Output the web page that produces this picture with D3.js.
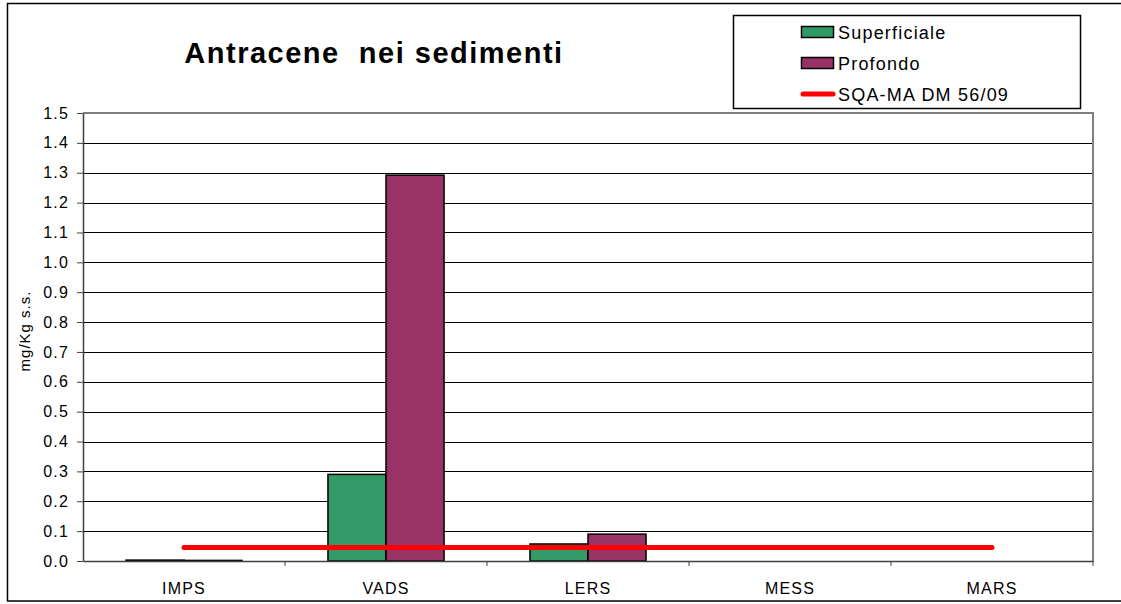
<!DOCTYPE html>
<html>
<head>
<meta charset="utf-8">
<script src="https://cdn.jsdelivr.net/npm/d3@7"></script>
<style>
  body { margin: 0; background: #fff; }
  svg { font-family: "Liberation Sans", Arial, sans-serif; }
</style>
</head>
<body>
<svg id="chart" width="1121" height="604"></svg>
<script>
// data
const categories = ["IMPS", "VADS", "LERS", "MESS", "MARS"];
const superficiale = [0.003, 0.29, 0.057, 0, 0];
const profondo = [0.002, 1.292, 0.09, 0, 0];
const sqaValue = 0.045; // SQA-MA DM 56/09
const yTicks = [0, 0.1, 0.2, 0.3, 0.4, 0.5, 0.6, 0.7, 0.8, 0.9, 1.0, 1.1, 1.2, 1.3, 1.4, 1.5];
const seriesNames = ["Superficiale", "Profondo", "SQA-MA DM 56/09"];
const colors = ["#339966", "#993366", "#ff0000"];

const svg = d3.select("#chart");

// outer chart frame
svg.append("rect")
    .attr("x", 7.5).attr("y", 3.5)
    .attr("width", 1125).attr("height", 597.5)
    .attr("fill", "#fff")
    .attr("stroke", "#000")
    .attr("stroke-width", 1.5);

// plot area
const plot = { left: 83, top: 113, right: 1093, bottom: 561 };

const x = d3.scaleBand()
    .domain(categories)
    .range([plot.left, plot.right])
    .paddingInner(0)
    .paddingOuter(0);

// two bars per category, ~58px each, ~43px gap at both sides
const inner = d3.scaleBand()
    .domain([0, 1])
    .range([0, x.bandwidth()])
    .paddingOuter(0.74)
    .paddingInner(0);

const y = d3.scaleLinear().domain([0, 1.5]).range([plot.bottom, plot.top]);

// gridlines
svg.append("g")
    .selectAll("line")
    .data(yTicks.slice(1))
    .join("line")
    .attr("x1", plot.left).attr("x2", plot.right)
    .attr("y1", d => Math.round(y(d)) + 0.5)
    .attr("y2", d => Math.round(y(d)) + 0.5)
    .attr("stroke", "#000")
    .attr("stroke-width", 1);

// plot area border (top/right, grey)
svg.append("path")
    .attr("d", `M${plot.left},${plot.top} H${plot.right} V${plot.bottom}`)
    .attr("fill", "none")
    .attr("stroke", "#808080")
    .attr("stroke-width", 2);

// bars
const groups = svg.append("g")
    .selectAll("g")
    .data(categories)
    .join("g")
    .attr("transform", d => `translate(${x(d)},0)`);

groups.selectAll("rect")
    .data((d, i) => [superficiale[i], profondo[i]].map((v, k) => ({ v, k })))
    .join("rect")
    .attr("x", d => inner(d.k))
    .attr("y", d => y(d.v))
    .attr("width", inner.bandwidth())
    .attr("height", d => y(0) - y(d.v))
    .attr("fill", d => colors[d.k])
    .attr("stroke", "#000")
    .attr("stroke-width", 1.5);

// y axis
const yAxis = svg.append("g")
    .attr("transform", `translate(${plot.left},0)`)
    .call(d3.axisLeft(y).tickValues(yTicks).tickFormat(d3.format(".1f")).tickSize(6).tickSizeOuter(0));
yAxis.select(".domain").attr("stroke", "#404040").attr("stroke-width", 1.5);
yAxis.selectAll(".tick line").attr("stroke", "#404040");
yAxis.selectAll(".tick text")
    .attr("x", -14)
    .attr("font-size", 16)
    .attr("letter-spacing", 1.2)
    .attr("font-family", "Liberation Sans, Arial, sans-serif")
    .attr("fill", "#000");

// x axis
const xAxis = svg.append("g")
    .attr("transform", `translate(0,${plot.bottom})`)
    .call(d3.axisBottom(x).tickSize(0).tickSizeOuter(0));
xAxis.select(".domain").attr("stroke", "#404040").attr("stroke-width", 1.5);
xAxis.selectAll(".tick text")
    .attr("dy", 0)
    .attr("y", 33)
    .attr("font-size", 16)
    .attr("letter-spacing", 1.2)
    .attr("font-family", "Liberation Sans, Arial, sans-serif")
    .attr("fill", "#000");
// category separator ticks
svg.append("g")
    .selectAll("line")
    .data(categories.slice(1).concat(["end"]))
    .join("line")
    .attr("x1", d => d === "end" ? plot.right : x(d))
    .attr("x2", d => d === "end" ? plot.right : x(d))
    .attr("y1", plot.bottom)
    .attr("y2", plot.bottom + 5)
    .attr("stroke", "#404040");

// SQA threshold line from first to last category centre
svg.append("line")
    .attr("x1", x(categories[0]) + x.bandwidth() / 2)
    .attr("x2", x(categories[categories.length - 1]) + x.bandwidth() / 2)
    .attr("y1", y(sqaValue))
    .attr("y2", y(sqaValue))
    .attr("stroke", colors[2])
    .attr("stroke-width", 5)
    .attr("stroke-linecap", "round");

// title
svg.append("text")
    .attr("x", 374).attr("y", 63)
    .attr("text-anchor", "middle")
    .attr("font-size", 29)
    .attr("font-weight", "bold")
    .attr("letter-spacing", 1.5)
    .attr("xml:space", "preserve")
    .text("Antracene  nei sedimenti");

// y axis title
svg.append("text")
    .attr("transform", "translate(30,331) rotate(-90)")
    .attr("text-anchor", "middle")
    .attr("font-size", 15)
    .attr("letter-spacing", 1)
    .text("mg/Kg s.s.");

// legend
const legend = svg.append("g");
legend.append("rect")
    .attr("x", 733.5).attr("y", 15.5)
    .attr("width", 347).attr("height", 93)
    .attr("fill", "#fff")
    .attr("stroke", "#000")
    .attr("stroke-width", 1.5);

const legendRows = legend.selectAll("g.row")
    .data(seriesNames)
    .join("g")
    .attr("class", "row")
    .attr("transform", (d, i) => `translate(801,${32 + i * 31})`);

legendRows.filter((d, i) => i < 2)
    .append("rect")
    .attr("x", 0.5).attr("y", -5.5)
    .attr("width", 32).attr("height", 11)
    .attr("fill", (d, i) => colors[i])
    .attr("stroke", "#000")
    .attr("stroke-width", 1.5);

legendRows.filter((d, i) => i === 2)
    .append("line")
    .attr("x1", 2).attr("x2", 32)
    .attr("y1", 0).attr("y2", 0)
    .attr("stroke", colors[2])
    .attr("stroke-width", 5)
    .attr("stroke-linecap", "round");

legendRows.append("text")
    .attr("x", 37).attr("y", 6.5)
    .attr("font-size", 18)
    .attr("letter-spacing", 1.2)
    .text(d => d);
</script>
</body>
</html>
